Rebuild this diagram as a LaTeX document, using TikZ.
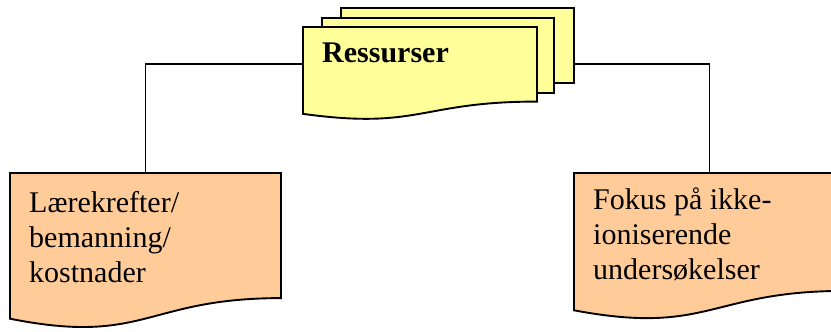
\documentclass[tikz,border=0pt]{standalone}
\usepackage{fontspec}
\setmainfont{Liberation Serif}
\usetikzlibrary{positioning, calc, backgrounds}

\definecolor{arkgul}{HTML}{FFFF99}
\definecolor{arkoransje}{HTML}{FFCC99}

% sheet with a wavy lower edge, drawn round an empty node
\newcommand{\ark}[2]{%
  \filldraw[sheet, fill=#2] (#1.north west) -- (#1.north east)
    -- ($(#1.north east)!0.802!(#1.south east)$)
    .. controls ($(#1.north)!0.802!(#1.south)$) and ($(#1.north)!1.1075!(#1.south)$)
    .. ($(#1.north west)!0.934!(#1.south west)$) -- cycle;}

\tikzset{
  sheet/.style={draw=black, line width=1.9pt, line join=miter},
  box/.style={rectangle, inner sep=0pt, outer sep=0pt},
  tekst/.style={inner sep=0pt, align=left, font=\fontsize{30}{35}\selectfont},
  conn/.style={draw=black, line width=1.7pt}
}

\begin{document}
\begin{tikzpicture}[x=1pt, y=1pt]
  \useasboundingbox (0,0) rectangle (831,332);

  % stack of sheets at the top
  \node[box, minimum width=271pt, minimum height=112pt] (ressurser) at (438.5,268) {};
  \node[box, minimum width=234pt, minimum height=93pt, anchor=south west] (forside) at (ressurser.south west) {};

  % the two sheets below
  \node[box, minimum width=271pt, minimum height=156pt, below left=53pt and 22pt of ressurser.south west] (laerer) {};
  \node[box, minimum width=271pt, minimum height=147pt, below right=53pt and 0pt of ressurser.south east] (fokus) {};

  % connectors
  \draw[conn] (ressurser.west) -| (laerer.north);
  \draw[conn] (ressurser.east) -| (fokus.north);

  % sheets
  \filldraw[sheet, fill=arkgul] ([xshift=38pt]ressurser.north west) rectangle ([yshift=-75pt]ressurser.north east);
  \filldraw[sheet, fill=arkgul] ([xshift=19pt,yshift=-10pt]ressurser.north west) rectangle ([xshift=-20pt,yshift=-85pt]ressurser.north east);
  \ark{forside}{arkgul}
  \ark{laerer}{arkoransje}
  \ark{fokus}{arkoransje}

  % texts
  \node[tekst, font=\fontsize{30}{35}\selectfont\bfseries, below right=16pt and 19pt of forside.north west] (ressurstxt) {Ressurser};
  \node[tekst, below right=18pt and 19pt of laerer.north west] (laerertxt) {Lærekrefter/\\bemanning/\\kostnader};
  \node[tekst, below right=15pt and 19pt of fokus.north west] (fokustxt) {Fokus på ikke-\\ioniserende\\undersøkelser};
\end{tikzpicture}
\end{document}
